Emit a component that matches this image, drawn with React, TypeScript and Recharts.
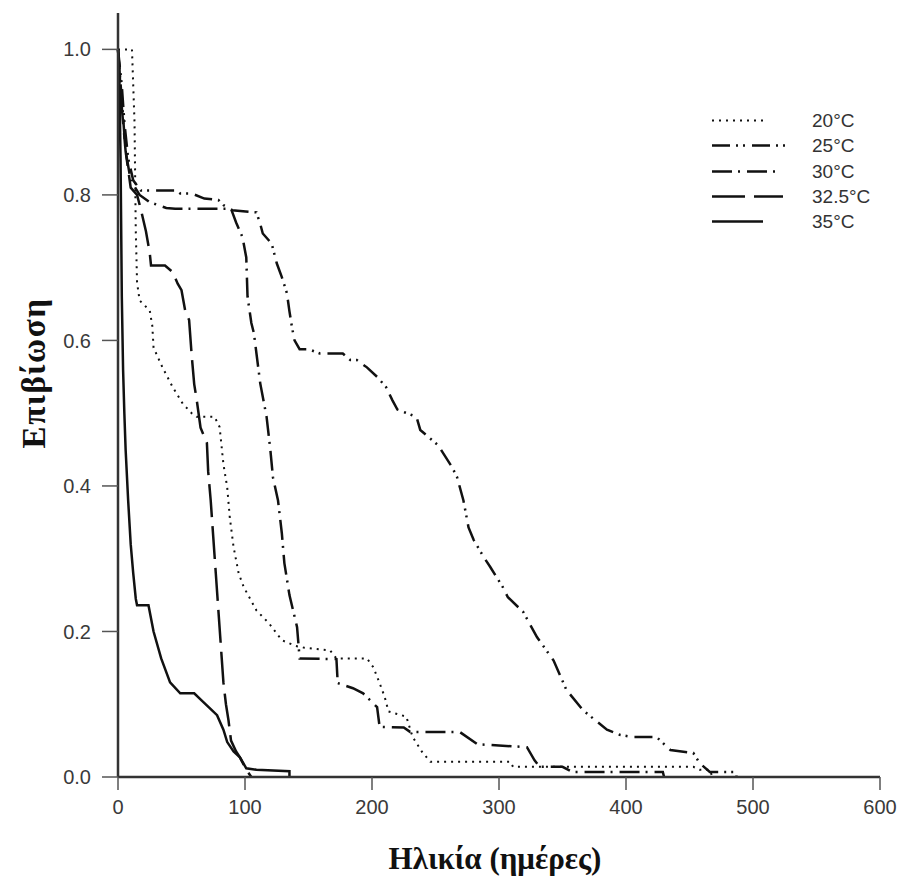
import React from "react";
import { LineChart, Line, XAxis, YAxis, Legend, Label } from "recharts";

// Survival (proportion alive) against age in days, one curve per temperature
const days20 = [0, 11, 13, 14, 15, 17, 25, 27, 28, 35, 43, 51, 58, 62, 76, 80, 83, 86, 88, 91, 95, 99, 109, 119, 129, 140, 146, 167, 172, 196, 201, 206, 210, 213, 227, 232, 240, 246, 309, 311, 453, 458, 466, 468];
const surv20 = [1.0, 1.0, 0.9, 0.75, 0.68, 0.655, 0.641, 0.62, 0.59, 0.563, 0.536, 0.513, 0.5, 0.495, 0.495, 0.481, 0.43, 0.398, 0.357, 0.316, 0.28, 0.261, 0.229, 0.211, 0.188, 0.18, 0.178, 0.174, 0.163, 0.163, 0.151, 0.129, 0.11, 0.09, 0.083, 0.055, 0.033, 0.021, 0.021, 0.014, 0.014, 0.01, 0.01, 0];

const days25 = [0, 3, 5, 8, 12, 18, 46, 49, 58, 68, 79, 83, 90, 109, 112, 114, 121, 125, 129, 133, 135, 137, 139, 143, 150, 159, 177, 183, 188, 196, 204, 211, 216, 220, 226, 235, 238, 252, 263, 267, 272, 276, 280, 288, 293, 303, 307, 319, 330, 343, 353, 366, 385, 395, 405, 424, 435, 453, 458, 466, 487, 487];
const surv25 = [1.0, 0.95, 0.9, 0.85, 0.82, 0.806, 0.806, 0.802, 0.802, 0.795, 0.793, 0.786, 0.779, 0.776, 0.76, 0.747, 0.733, 0.706, 0.687, 0.665, 0.64, 0.618, 0.6, 0.588, 0.588, 0.582, 0.582, 0.573, 0.573, 0.563, 0.55, 0.536, 0.518, 0.505, 0.501, 0.495, 0.477, 0.456, 0.426, 0.412, 0.38, 0.343, 0.326, 0.302, 0.289, 0.261, 0.247, 0.227, 0.192, 0.16, 0.12, 0.092, 0.065, 0.058, 0.055, 0.055, 0.037, 0.033, 0.019, 0.007, 0.007, 0];

const days30 = [0, 3, 6, 10, 17, 25, 38, 45, 89, 93, 98, 101, 102, 105, 107, 112, 117, 120, 122, 126, 129, 131, 135, 141, 143, 172, 173, 185, 193, 204, 206, 225, 230, 269, 283, 322, 328, 332, 350, 358, 429, 430];
const surv30 = [1.0, 0.93, 0.86, 0.82, 0.8, 0.79, 0.782, 0.781, 0.781, 0.762, 0.742, 0.714, 0.66, 0.624, 0.61, 0.541, 0.495, 0.449, 0.412, 0.38, 0.335, 0.294, 0.25, 0.206, 0.163, 0.162, 0.129, 0.122, 0.115, 0.096, 0.069, 0.068, 0.062, 0.062, 0.045, 0.041, 0.023, 0.014, 0.014, 0.007, 0.007, 0];

const days325 = [0, 3, 6, 10, 15, 18, 22, 25, 26, 37, 43, 47, 50, 53, 56, 58, 60, 62, 65, 70, 71, 73, 75, 77, 79, 81, 83, 85, 87, 89, 93, 96, 101, 105];
const surv325 = [1.0, 0.92, 0.86, 0.81, 0.8, 0.78, 0.75, 0.72, 0.703, 0.703, 0.694, 0.678, 0.669, 0.64, 0.628, 0.58, 0.54, 0.518, 0.48, 0.459, 0.42, 0.38, 0.33, 0.28, 0.23, 0.18, 0.13, 0.1, 0.078, 0.05, 0.035, 0.027, 0.01, 0];

const days35 = [0, 1, 2, 3, 4, 5, 6, 8, 10, 12, 14, 15, 24, 28, 34, 41, 49, 60, 66, 72, 78, 83, 86, 91, 96, 101, 109, 135, 135];
const surv35 = [1.0, 0.97, 0.85, 0.66, 0.56, 0.5, 0.45, 0.38, 0.32, 0.28, 0.245, 0.236, 0.236, 0.2, 0.163, 0.13, 0.115, 0.115, 0.105, 0.095, 0.085, 0.065, 0.048, 0.035, 0.027, 0.012, 0.01, 0.008, 0];

const xTicks = [0, 100, 200, 300, 400, 500, 600];
const yTicks = [0, 0.2, 0.4, 0.6, 0.8, 1.0];

const toRows = (t: number[], s: number[]) => t.map((d, i) => ({ t: d, s: s[i] }));

const SERIES = [
  { name: "20", data: toRows(days20, surv20), dash: "2 5", width: 2, legendLen: 51 },
  { name: "25", data: toRows(days25, surv25), dash: "18 6 2 5 2 7", width: 2.5, legendLen: 80 },
  { name: "30", data: toRows(days30, surv30), dash: "20 6 2 7", width: 2.5, legendLen: 65 },
  { name: "32.5", data: toRows(days325, surv325), dash: "33 9", width: 2.5, legendLen: 71 },
  { name: "35", data: toRows(days35, surv35), dash: undefined, width: 2.5, legendLen: 51 },
];

const TICK_STYLE = { fontSize: 20, fill: "#3a3a3a", fontFamily: "'Liberation Sans', Arial, sans-serif" };
const TITLE_FONT = "'Liberation Serif', 'Times New Roman', serif";

const LegendBox = () => (
  <div style={{ display: "flex", flexDirection: "column" }}>
    {SERIES.map((s) => (
      <div key={s.name} style={{ display: "flex", alignItems: "center", height: 25.3 }}>
        <svg width={112} height={25} style={{ display: "block" }}>
          <line x1={12} x2={12 + s.legendLen} y1={12.5} y2={12.5} stroke="#111" strokeWidth={s.width} strokeDasharray={s.dash} />
        </svg>
        <span style={{ fontSize: 19, color: "#333", fontFamily: TICK_STYLE.fontFamily, lineHeight: "25px" }}>
          {s.name}°C
        </span>
      </div>
    ))}
  </div>
);

const XTitle = ({ viewBox }: any) => {
  const vb = viewBox || { x: 118, y: 777, width: 762, height: 104 };
  return (
    <text x={vb.x + vb.width / 2 - 4} y={vb.y + 92} textAnchor="middle" fontFamily={TITLE_FONT} fontWeight="bold" fontSize={31} fill="#111">
      Ηλικία (ημέρες)
    </text>
  );
};

const YTitle = ({ viewBox }: any) => {
  const vb = viewBox || { x: 18, y: 13, width: 100, height: 764 };
  const cx = vb.x + 16;
  const cy = vb.y + vb.height / 2 - 22;
  return (
    <text x={cx} y={cy} transform={`rotate(-90 ${cx} ${cy})`} textAnchor="middle" dominantBaseline="central" fontFamily={TITLE_FONT} fontWeight="bold" fontSize={33} letterSpacing={1.5} fill="#111">
      Επιβίωση
    </text>
  );
};

export default function App() {
  return (
    <div style={{ position: "fixed", left: 0, top: 0, width: 902, height: 881, background: "#fff" }}>
      <LineChart width={902} height={881} margin={{ top: 13, right: 22, bottom: 0, left: 18 }}>
        <XAxis
          type="number"
          dataKey="t"
          domain={[0, 600]}
          ticks={xTicks}
          height={104}
          tickSize={13}
          tickMargin={10}
          tick={TICK_STYLE}
          axisLine={{ stroke: "#333", strokeWidth: 2.5 }}
          tickLine={{ stroke: "#555", strokeWidth: 1.5 }}
        >
          <Label content={(p: any) => <XTitle viewBox={p.viewBox} />} />
        </XAxis>
        <YAxis
          type="number"
          dataKey="s"
          domain={[0, 1.05]}
          ticks={yTicks}
          tickFormatter={(v: number) => v.toFixed(1)}
          width={100}
          tickSize={16}
          tickMargin={11}
          tick={TICK_STYLE}
          axisLine={{ stroke: "#333", strokeWidth: 2.5 }}
          tickLine={{ stroke: "#555", strokeWidth: 1.5 }}
        >
          <Label content={(p: any) => <YTitle viewBox={p.viewBox} />} />
        </YAxis>
        <Legend
          layout="vertical"
          align="center"
          verticalAlign="middle"
          content={() => <LegendBox />}
          wrapperStyle={{ position: "absolute", left: 700, top: 108, width: 200 }}
        />
        {SERIES.map((s) => (
          <Line
            key={s.name}
            data={s.data}
            dataKey="s"
            name={`${s.name}°C`}
            type="linear"
            stroke="#111"
            strokeWidth={s.width}
            strokeDasharray={s.dash}
            dot={false}
            activeDot={false}
            isAnimationActive={false}
          />
        ))}
      </LineChart>
    </div>
  );
}
